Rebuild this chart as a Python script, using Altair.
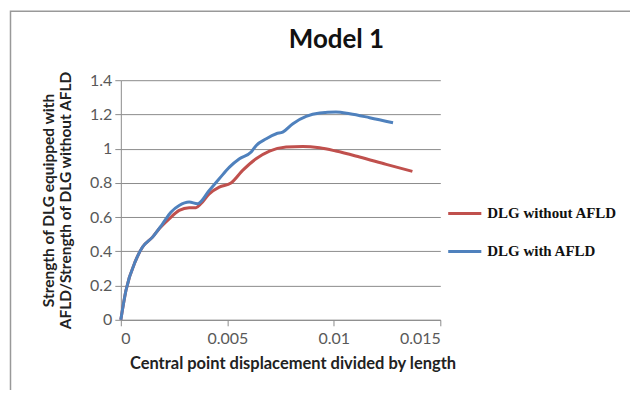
import altair as alt
import pandas as pd

chart_title = "Model 1"
series_names = ["DLG without AFLD", "DLG with AFLD"]

red_x = [0, 0.00024, 0.0007, 0.00102, 0.00149, 0.0018, 0.00227, 0.00274, 0.00321, 0.00353,
         0.00376, 0.00415, 0.00462, 0.00517, 0.00572, 0.00635, 0.00698, 0.00776, 0.00854,
         0.00933, 0.0101, 0.01121, 0.01246, 0.01369]
red_y = [0, 0.171, 0.347, 0.425, 0.483, 0.532, 0.590, 0.639, 0.655, 0.655,
         0.678, 0.736, 0.775, 0.799, 0.873, 0.941, 0.986, 1.009, 1.013,
         1.005, 0.986, 0.951, 0.908, 0.867]

blue_x = [0, 0.00024, 0.0007, 0.00102, 0.00149, 0.00196, 0.00235, 0.00274, 0.00321, 0.0036,
          0.00415, 0.00462, 0.0051, 0.00557, 0.00612, 0.00636, 0.00683, 0.0073, 0.0076,
          0.00808, 0.0087, 0.00934, 0.0101, 0.01075, 0.01168, 0.01278]
blue_y = [0, 0.171, 0.347, 0.425, 0.483, 0.561, 0.629, 0.668, 0.688, 0.678,
          0.756, 0.824, 0.892, 0.941, 0.980, 1.019, 1.058, 1.087, 1.097,
          1.146, 1.188, 1.208, 1.214, 1.204, 1.181, 1.151]

x_ticks = [0, 0.005, 0.01, 0.015]
y_ticks = [0, 0.2, 0.4, 0.6, 0.8, 1.0, 1.2, 1.4]

df = pd.concat([
    pd.DataFrame({"x": red_x, "y": red_y, "series": series_names[0], "o": range(len(red_x))}),
    pd.DataFrame({"x": blue_x, "y": blue_y, "series": series_names[1], "o": range(len(blue_x))}),
])

axis_font = "Lato"
gray_text = "#595959"

lines = alt.Chart(df).mark_line(strokeWidth=3, interpolate="monotone").encode(
    x=alt.X("x:Q", scale=alt.Scale(domain=[0, 0.015], nice=False),
            axis=alt.Axis(values=x_ticks, format=".3~f", grid=False,
                          title="Central point displacement divided by length",
                          titleFont=axis_font, titleFontSize=16.5, titleFontWeight="bold",
                          titleColor="#222", titlePadding=9, titleX=172,
                          labelFont=axis_font, labelFontSize=16, labelColor=gray_text,
                          labelPadding=5, tickSize=6, tickColor="#8c8c8c",
                          domainColor="#8c8c8c")),
    y=alt.Y("y:Q", scale=alt.Scale(domain=[0, 1.4], nice=False),
            axis=alt.Axis(values=y_ticks, format=".1~f", grid=True, gridColor="#8c8c8c",
                          title=["Strength of DLG equipped with", "AFLD/Strength of DLG without AFLD"],
                          titleFont=axis_font, titleFontSize=15.5, titleFontWeight="bold",
                          titleColor="#222", titlePadding=16, titleLineHeight=17,
                          labelFont=axis_font, labelFontSize=16, labelColor=gray_text,
                          labelPadding=3, tickSize=6, tickColor="#8c8c8c",
                          domainColor="#8c8c8c")),
    color=alt.Color("series:N",
                    scale=alt.Scale(domain=series_names, range=["#C0504D", "#4F81BD"]),
                    legend=alt.Legend(title=None, orient="none", legendX=326, legendY=115,
                                      symbolType="stroke", symbolSize=1100,
                                      symbolStrokeWidth=3, rowPadding=11,
                                      labelFont="Liberation Serif", labelFontSize=15,
                                      labelFontWeight="bold", labelColor="#111",
                                      labelOffset=4)),
    order="o:Q",
)

border = alt.Chart(pd.DataFrame({"a": [0]})).mark_rect(
    stroke="#999", strokeWidth=1.5, fill="white", fillOpacity=0).encode(
    x=alt.value(-110.5), x2=alt.value(540), y=alt.value(-69), y2=alt.value(420))

title_text = alt.Chart(pd.DataFrame({"t": [chart_title]})).mark_text(
    font=axis_font, fontSize=26, fontWeight="bold", color="#111",
    align="center", baseline="alphabetic").encode(
    text="t:N", x=alt.value(216), y=alt.value(-32))

chart = alt.layer(border, lines, title_text).properties(
    width=320, height=240,
    autosize=alt.AutoSizeParams(type="none"),
    padding={"left": 113, "top": 72, "right": 190, "bottom": 70},
).configure_view(stroke=None)

chart.save("out.html", embed_options={"renderer": "svg", "actions": False})
